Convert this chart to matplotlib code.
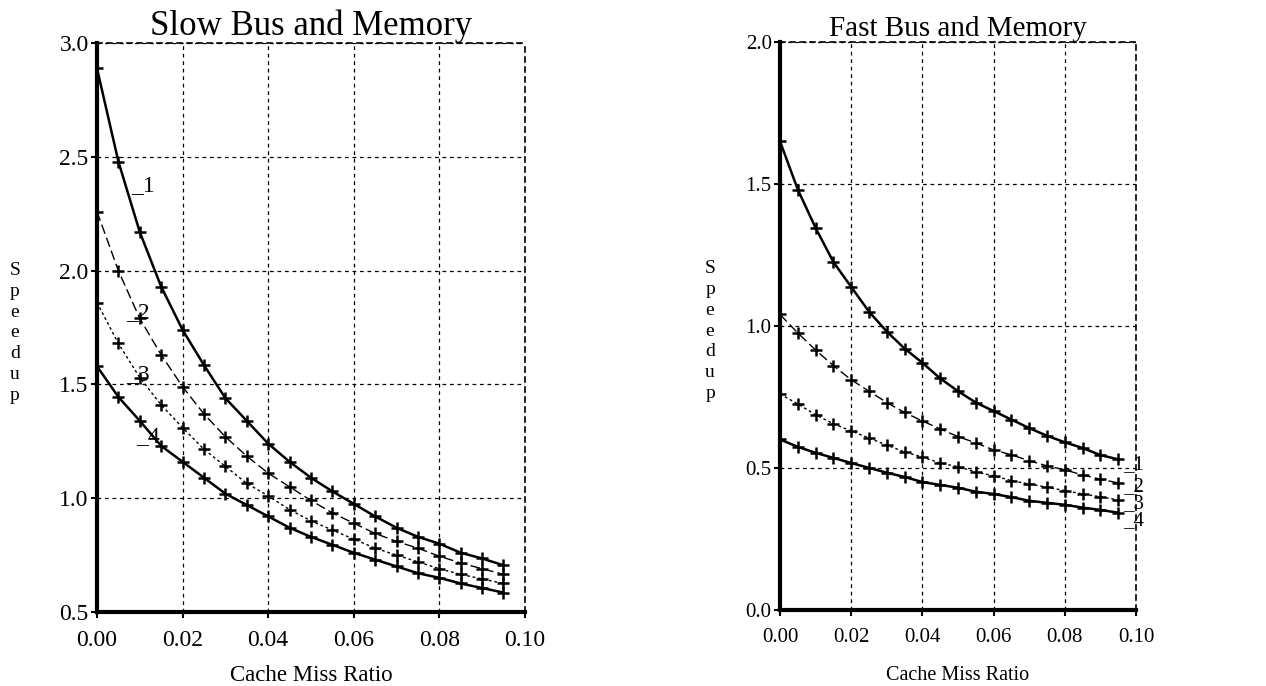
import numpy as np
import matplotlib
matplotlib.use('Agg')
import matplotlib.pyplot as plt

plt.rcParams['font.family'] = ['Liberation Serif', 'DejaVu Serif']

# cache miss ratio, same for every curve
miss = [0.000, 0.005, 0.010, 0.015, 0.020, 0.025, 0.030, 0.035, 0.040, 0.045,
        0.050, 0.055, 0.060, 0.065, 0.070, 0.075, 0.080, 0.085, 0.090, 0.095]

# Slow bus and memory
slow_1 = [2.89, 2.48, 2.17, 1.93, 1.74, 1.585, 1.44, 1.34, 1.24, 1.16,
          1.09, 1.03, 0.975, 0.92, 0.87, 0.83, 0.80, 0.76, 0.735, 0.705]
slow_2 = [2.26, 2.00, 1.79, 1.63, 1.49, 1.37, 1.27, 1.185, 1.11, 1.05,
          0.99, 0.935, 0.89, 0.845, 0.81, 0.78, 0.745, 0.715, 0.69, 0.665]
slow_3 = [1.86, 1.68, 1.53, 1.41, 1.31, 1.215, 1.14, 1.065, 1.01, 0.95,
          0.90, 0.86, 0.82, 0.78, 0.75, 0.72, 0.69, 0.665, 0.645, 0.625]
slow_4 = [1.58, 1.445, 1.34, 1.23, 1.16, 1.09, 1.02, 0.97, 0.92, 0.87,
          0.83, 0.795, 0.76, 0.73, 0.70, 0.67, 0.65, 0.625, 0.605, 0.585]

# Fast bus and memory
fast_1 = [1.65, 1.48, 1.345, 1.225, 1.137, 1.05, 0.98, 0.92, 0.87, 0.815,
          0.77, 0.73, 0.70, 0.67, 0.64, 0.613, 0.59, 0.57, 0.545, 0.53]
fast_2 = [1.04, 0.975, 0.915, 0.86, 0.81, 0.77, 0.73, 0.695, 0.665, 0.637,
          0.61, 0.588, 0.563, 0.546, 0.525, 0.507, 0.493, 0.475, 0.46, 0.447]
fast_3 = [0.76, 0.725, 0.687, 0.655, 0.63, 0.605, 0.58, 0.556, 0.538, 0.517,
          0.504, 0.486, 0.472, 0.455, 0.443, 0.432, 0.42, 0.408, 0.398, 0.387]
fast_4 = [0.60, 0.574, 0.553, 0.535, 0.517, 0.50, 0.483, 0.468, 0.45, 0.44,
          0.43, 0.416, 0.408, 0.397, 0.384, 0.377, 0.37, 0.36, 0.352, 0.342]

curve_names = ['1', '2', '3', '4']
slow_label_pos = [(0.0080, 2.35), (0.0068, 1.79), (0.0068, 1.52), (0.0092, 1.245)]
fast_label_pos = [(0.0965, 0.495), (0.0965, 0.418), (0.0965, 0.36), (0.0965, 0.298)]

styles = ['-', (0, (7, 3)), (0, (2, 2)), '-']
widths = [1.8, 1.0, 1.0, 1.8]


def draw_panel(ax, series, title, ylim, yticks, label_pos, title_size, tick_size, label_size, xpad):
    for ys, ls, lw in zip(series, styles, widths):
        ax.plot(miss, ys, color='black', linestyle=ls, linewidth=lw,
                marker='+', markersize=9, markeredgewidth=1.8)
    for name, (lx, ly) in zip(curve_names, label_pos):
        ax.text(lx, ly, '_' + name, fontsize=tick_size, ha='left', va='baseline')

    ax.set_xlim(0, 0.1)
    ax.set_ylim(*ylim)
    ax.set_xticks([0.0, 0.02, 0.04, 0.06, 0.08, 0.10])
    ax.set_xticklabels(['0.00', '0.02', '0.04', '0.06', '0.08', '0.10'])
    ax.set_yticks(yticks)
    ax.set_yticklabels(['%.1f' % v for v in yticks])
    ax.tick_params(labelsize=tick_size, direction='out', length=4, width=1.5)
    ax.tick_params(axis='x', pad=9)
    ax.tick_params(axis='y', pad=2)
    ax.grid(True, color='black', linestyle=(0, (3, 3)), linewidth=0.9)
    ax.set_axisbelow(True)
    for side in ['left', 'bottom']:
        ax.spines[side].set_linewidth(3)
    for side in ['top', 'right']:
        ax.spines[side].set_linestyle((0, (3, 3)))
        ax.spines[side].set_linewidth(1.2)
    ax.set_title(title, fontsize=title_size, pad=1)
    ax.set_xlabel('Cache Miss Ratio', fontsize=label_size, labelpad=xpad)


fig = plt.figure(figsize=(12.66, 6.86), dpi=100)
ax1 = fig.add_axes([0.0766, 0.108, 0.338, 0.829])
ax2 = fig.add_axes([0.6161, 0.111, 0.2812, 0.828])

draw_panel(ax1, [slow_1, slow_2, slow_3, slow_4], 'Slow Bus and Memory',
           (0.5, 3.0), [0.5, 1.0, 1.5, 2.0, 2.5, 3.0], slow_label_pos, 25, 17, 16.5, 10)
draw_panel(ax2, [fast_1, fast_2, fast_3, fast_4], 'Fast Bus and Memory',
           (0.0, 2.0), [0.0, 0.5, 1.0, 1.5, 2.0], fast_label_pos, 21, 15, 14.5, 14)

# stacked vertical axis label
fig.text(15 / 1266, 1 - 333 / 686, '\n'.join('Speedup'), fontsize=14,
         ha='center', va='center', linespacing=1.3)
fig.text(710 / 1266, 1 - 331 / 686, '\n'.join('Speedup'), fontsize=14,
         ha='center', va='center', linespacing=1.3)

fig.savefig('out.png', dpi=100)
